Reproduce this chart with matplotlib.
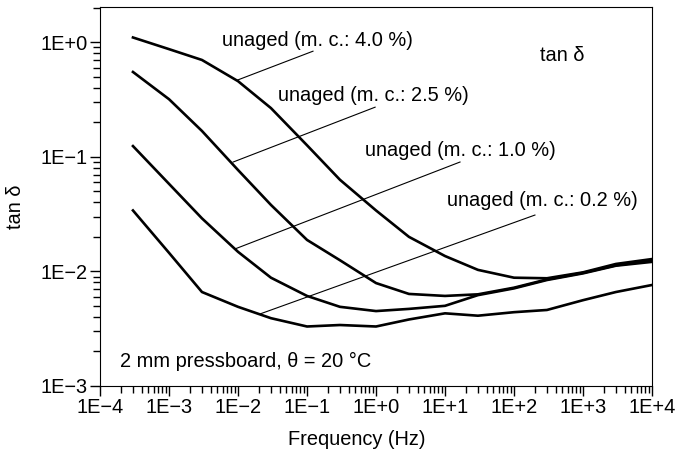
import math
import matplotlib
matplotlib.use('Agg')
import matplotlib.pyplot as plt
from matplotlib.ticker import LogLocator, FuncFormatter, NullFormatter

plt.rcParams['font.family'] = ['Liberation Sans', 'DejaVu Sans']

# frequency points (Hz)
freq = [3e-4, 1e-3, 3e-3, 1e-2, 3e-2, 1e-1, 3e-1, 1e0, 3e0, 1e1, 3e1, 1e2, 3e2, 1e3, 3e3, 1e4]

# tan delta for each moisture content
tan_40 = [1.10, 0.87, 0.70, 0.457, 0.266, 0.126, 0.063, 0.034, 0.020, 0.0136, 0.0103,
          0.0088, 0.0087, 0.0098, 0.0116, 0.0128]
tan_25 = [0.55, 0.318, 0.168, 0.0766, 0.038, 0.0188, 0.0125, 0.0079, 0.00635, 0.0061,
          0.0063, 0.0072, 0.0085, 0.0097, 0.0113, 0.0124]
tan_10 = [0.124, 0.058, 0.029, 0.0148, 0.0088, 0.0061, 0.0049, 0.0045, 0.0047, 0.0050,
          0.0062, 0.0071, 0.0084, 0.0096, 0.0112, 0.0121]
tan_02 = [0.034, 0.0145, 0.0066, 0.0049, 0.0039, 0.0033, 0.0034, 0.0033, 0.0038, 0.0043,
          0.0041, 0.0044, 0.0046, 0.0056, 0.0066, 0.0076]

series = [tan_40, tan_25, tan_10, tan_02]
labels = ['unaged (m. c.: 4.0 %)', 'unaged (m. c.: 2.5 %)',
          'unaged (m. c.: 1.0 %)', 'unaged (m. c.: 0.2 %)']
# text anchor (left, centre) and leader line (curve point -> text point)
text_pos = [(5.9e-3, 1.04), (0.038, 0.345), (0.69, 0.114), (10.7, 0.0419)]
leaders = [((0.0097, 0.466), (0.122, 0.835)),
           ((8.5e-3, 0.090), (0.97, 0.271)),
           ((9.06e-3, 0.0157), (16.5, 0.09)),
           ((0.0209, 0.00425), (201, 0.031))]

FS = 14.4

fig = plt.figure(figsize=(6.76, 4.54), dpi=100)
ax = fig.add_axes([0.148, 0.150, 0.8165, 0.8346])

for s in series:
    ax.plot(freq, s, color='black', lw=1.9)

for lab, (tx, ty), ((x0, y0), (x1, y1)) in zip(labels, text_pos, leaders):
    ax.plot([x0, x1], [y0, y1], color='black', lw=0.8)
    ax.text(tx, ty, lab, fontsize=FS, ha='left', va='center')

ax.text(238, 0.77, 'tan δ', fontsize=FS, ha='left', va='center')
ax.text(1.94e-4, 0.00162, '2 mm pressboard, θ = 20 °C', fontsize=FS, ha='left', va='center')

ax.set_xscale('log')
ax.set_yscale('log')
ax.set_xlim(1e-4, 1e4)
ax.set_ylim(1e-3, 2.03)


def fmt_exp(v, pos):
    e = int(round(math.log10(v)))
    return '1E%s%d' % ('+' if e >= 0 else '\u2212', abs(e))


ax.xaxis.set_major_locator(LogLocator(base=10, numticks=20))
ax.yaxis.set_major_locator(LogLocator(base=10, numticks=20))
ax.xaxis.set_minor_locator(LogLocator(base=10, subs=range(2, 10), numticks=20))
ax.yaxis.set_minor_locator(LogLocator(base=10, subs=range(2, 10), numticks=20))
ax.xaxis.set_major_formatter(FuncFormatter(fmt_exp))
ax.yaxis.set_major_formatter(FuncFormatter(fmt_exp))
ax.xaxis.set_minor_formatter(NullFormatter())
ax.yaxis.set_minor_formatter(NullFormatter())
ax.tick_params(which='major', direction='out', length=7, width=1, labelsize=FS, pad=2)
ax.tick_params(which='minor', direction='out', length=5, width=1)

ax.set_xlabel('Frequency (Hz)', fontsize=FS, va='center')
ax.set_ylabel('tan δ', fontsize=FS, va='center')
ax.xaxis.set_label_coords(0.4656, -0.1425)
ax.yaxis.set_label_coords(-0.154, 0.472)

plt.savefig('out.png', dpi=100)
